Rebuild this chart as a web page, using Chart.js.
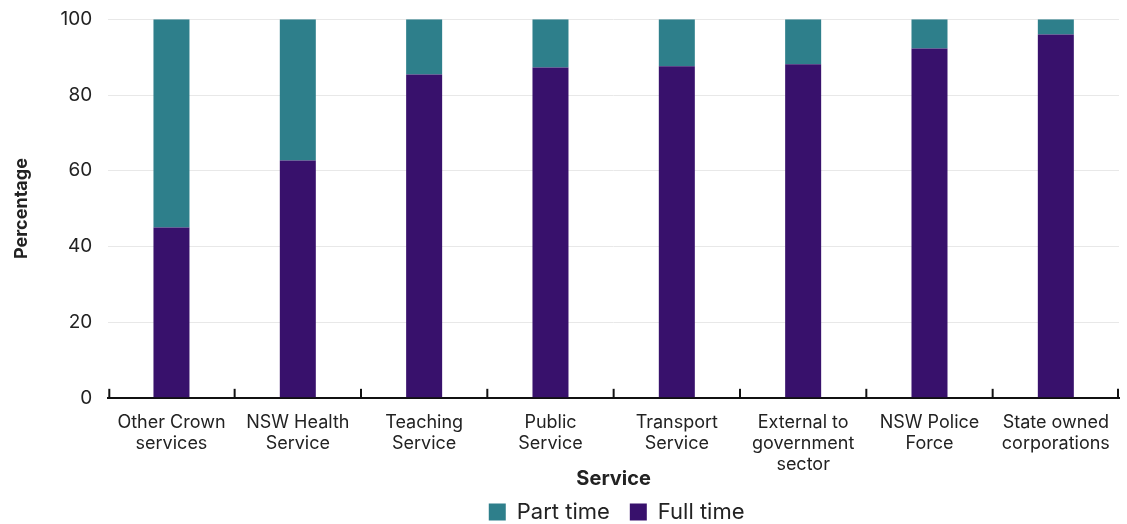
<!DOCTYPE html>
<html>
<head>
<meta charset="utf-8">
<script src="https://cdn.jsdelivr.net/npm/chart.js@4/dist/chart.umd.min.js"></script>
<style>
  html, body { margin: 0; padding: 0; background: #fff; }
  #wrap { width: 1127px; height: 524px; }
</style>
</head>
<body>
<div id="wrap"><canvas id="mycanvas" width="1127" height="524"></canvas></div>
<script>
var services = [
  ["Other Crown", "services"],
  ["NSW Health", "Service"],
  ["Teaching", "Service"],
  ["Public", "Service"],
  ["Transport", "Service"],
  ["External to", "government", "sector"],
  ["NSW Police", "Force"],
  ["State owned", "corporations"]
];
var fullTime = [45.0, 62.7, 85.4, 87.3, 87.6, 88.1, 92.3, 96.0];
var partTime = [55.0, 37.3, 14.6, 12.7, 12.4, 11.9, 7.7, 4.0];
var yTicks = [0, 20, 40, 60, 80, 100];

Chart.defaults.font.family = "Inter, 'Noto Sans', sans-serif";
Chart.defaults.color = "#222";

// category separators drawn upward from the x axis line
var upTicks = {
  id: 'upTicks',
  afterDatasetsDraw: function(chart) {
    var x = chart.scales.x, area = chart.chartArea, c = chart.ctx;
    var n = x.ticks.length;
    c.save();
    c.strokeStyle = "#111";
    c.lineWidth = 2;
    for (var i = 0; i <= n; i++) {
      var px;
      if (i === 0) px = area.left + 1;
      else if (i === n) px = area.right - 1;
      else px = (x.getPixelForTick(i - 1) + x.getPixelForTick(i)) / 2;
      c.beginPath();
      c.moveTo(px, area.bottom);
      c.lineTo(px, area.bottom - 9);
      c.stroke();
    }
    c.restore();
  }
};

// centre the legend under the plot area instead of the whole canvas
var legendUnderPlot = {
  id: 'legendUnderPlot',
  afterUpdate: function(chart) {
    var lg = chart.legend, area = chart.chartArea;
    if (!lg) return;
    var shift = (area.left + area.right) / 2 - (lg.left + lg.right) / 2 + 3;
    lg.left += shift;
    lg.right += shift;
    lg.adjustHitBoxes();
  }
};

var ctx = document.getElementById("mycanvas");

var chart = new Chart(ctx, {
  type: 'bar',
  data: {
    labels: services,
    datasets: [
      {
        label: "Full time",
        data: fullTime,
        backgroundColor: "#38116c",
        barPercentage: 0.57,
        categoryPercentage: 0.5
      },
      {
        label: "Part time",
        data: partTime,
        backgroundColor: "#2e7f8b",
        barPercentage: 0.57,
        categoryPercentage: 0.5
      }
    ]
  },
  plugins: [upTicks, legendUnderPlot],
  options: {
    responsive: false,
    animation: false,
    layout: { padding: { top: 0, right: 8, left: 11, bottom: -9 } },
    plugins: {
      legend: {
        position: 'bottom',
        reverse: true,
        labels: {
          boxWidth: 17,
          boxHeight: 17,
          padding: 20,
          font: { size: 22 },
          color: "#222"
        }
      },
      tooltip: { enabled: false }
    },
    scales: {
      x: {
        stacked: true,
        border: { display: true, color: "#111", width: 2 },
        grid: { display: false },
        ticks: {
          font: { size: 18, lineHeight: 1.17 },
          color: "#222",
          padding: 6,
          maxRotation: 0,
          autoSkip: false
        },
        title: {
          display: true,
          text: "Service",
          font: { size: 20, weight: 'bold' },
          color: "#222",
          padding: { top: -14, bottom: -10 }
        }
      },
      y: {
        stacked: true,
        min: 0,
        max: 100,
        afterBuildTicks: function(scale) {
          scale.ticks = yTicks.map(function(v) { return { value: v }; });
        },
        border: { display: false },
        grid: {
          color: "#e8e8e8",
          lineWidth: 1,
          drawTicks: false
        },
        ticks: {
          font: { size: 19, lineHeight: 0.35 },
          color: "#222",
          padding: 16
        },
        title: {
          display: true,
          text: "Percentage",
          font: { size: 18, weight: 'bold' },
          color: "#222",
          padding: { top: 0, bottom: 12 }
        }
      }
    }
  }
});
</script>
</body>
</html>
